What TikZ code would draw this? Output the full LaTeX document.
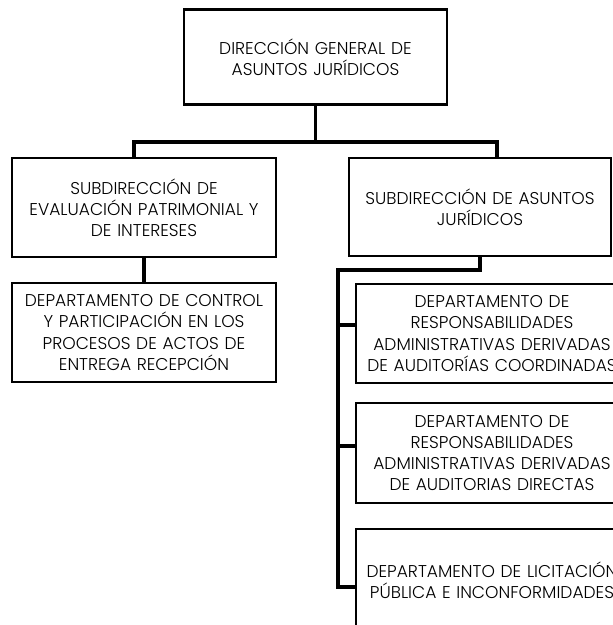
\documentclass[tikz,border=0pt]{standalone}
\usepackage{fontspec}
\setmainfont{Poppins Light}
\begin{document}
\begin{tikzpicture}[x=0.75pt,y=-0.75pt,
  unit/.style 2 args={draw=black, line width=1.6pt, fill=white, rectangle,
    minimum width=#1*0.75pt, minimum height=#2*0.75pt,
    text width=#1*0.75pt-2pt, align=center, inner sep=0pt,
    font=\fontsize{12.8}{15.8}\selectfont},
  conn/.style={line width=2.8pt, line join=miter}]
\useasboundingbox (0,0) rectangle (613,625);
\clip (0,0) rectangle (613,625);

% top level
\node[unit={263}{95}] (dg) at (315.5,57) {DIRECCIÓN GENERAL DE\\ASUNTOS JURÍDICOS};

% subdirections
\node[unit={264}{99}] (sea) at (144,207.5) {SUBDIRECCIÓN DE\\EVALUACIÓN PATRIMONIAL Y\\DE INTERESES};
\node[unit={262}{98}] (saj) at (480,207) {SUBDIRECCIÓN DE ASUNTOS\\JURÍDICOS};

% departments
\node[unit={264}{99}] (dcp) at (144,332.5) {DEPARTAMENTO DE CONTROL\\Y PARTICIPACIÓN EN LOS\\PROCESOS DE ACTOS DE\\ENTREGA RECEPCIÓN};
\node[unit={272}{99}] (d1) at (492,333.5) {DEPARTAMENTO DE\\RESPONSABILIDADES\\ADMINISTRATIVAS DERIVADAS\\DE AUDITORÍAS COORDINADAS};
\node[unit={272}{100}] (d2) at (492,453) {DEPARTAMENTO DE\\RESPONSABILIDADES\\ADMINISTRATIVAS DERIVADAS\\DE AUDITORIAS DIRECTAS};
\node[unit={272}{102}] (d3) at (492,580) {DEPARTAMENTO DE LICITACIÓN\\PÚBLICA E INCONFORMIDADES};

% junction points
\coordinate (barL) at (134,142);
\coordinate (barR) at (497,142);
\coordinate (elbow) at (480,270);
\coordinate (spTop) at (338,270);
\coordinate (s1) at (338,325);
\coordinate (s2) at (338,446);
\coordinate (s3) at (338,587);

% connectors
\draw[conn] (dg.south) -- (dg.south |- barL);
\draw[conn] (barL |- sea.north) -- (barL) -- (barR) -- (barR |- saj.north);
\draw[conn] (sea.south) -- (dcp.north);
\draw[conn] (saj.south) -- (elbow) -- (spTop) -- (s3) -- (d3.west |- s3);
\draw[conn] (s1) -- (d1.west |- s1);
\draw[conn] (s2) -- (d2.west |- s2);
\end{tikzpicture}
\end{document}
